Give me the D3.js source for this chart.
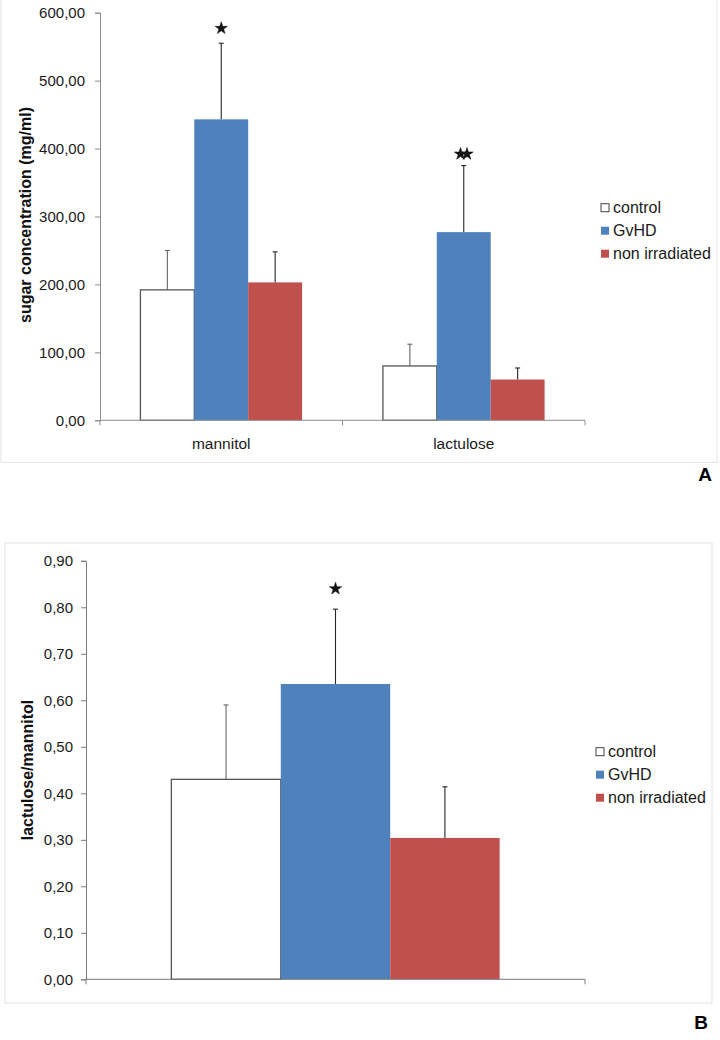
<!DOCTYPE html>
<html>
<head>
<meta charset="utf-8">
<script src="https://cdn.jsdelivr.net/npm/d3@7"></script>
<style>
  body { margin: 0; background: #fff; }
  svg { display: block; font-family: "Liberation Sans", Arial, sans-serif; }
</style>
</head>
<body>
<script>
// data
var seriesNames = ["control", "GvHD", "non irradiated"];
var seriesColors = ["#ffffff", "#4f81bd", "#c0504d"];

var sugarCategories = ["mannitol", "lactulose"];
var sugarMeans = [[192, 443, 203], [80, 277, 60]];
var sugarSD = [[58, 112, 45], [32, 98, 17]];
var sugarTicks = [0, 100, 200, 300, 400, 500, 600];
var sugarStars = [{cat: "mannitol", value: 577, n: 1}, {cat: "lactulose", value: 392, n: 2}];

var ratioCategories = [""];
var ratioMeans = [[0.43, 0.635, 0.304]];
var ratioSD = [[0.16, 0.161, 0.11]];
var ratioTicks = [0, 0.1, 0.2, 0.3, 0.4, 0.5, 0.6, 0.7, 0.8, 0.9];
var ratioStars = [{cat: "", value: 0.84, n: 1}];

var locale = d3.formatLocale({decimal: ",", thousands: ".", grouping: [3], currency: ["", ""]});
var fmt = locale.format(".2f");

var svg = d3.select("body").append("svg")
    .attr("width", 720)
    .attr("height", 1040);

function drawPanel(opt) {
  var g = svg.append("g");

  // light chart frame
  g.append("rect")
    .attr("x", opt.frame[0]).attr("y", opt.frame[1])
    .attr("width", opt.frame[2]).attr("height", opt.frame[3])
    .attr("fill", "none").attr("stroke", "#e2e2e2");

  var x = d3.scaleBand().domain(opt.categories).range(opt.xRange).padding(0);
  var inner = d3.scaleBand().domain(seriesNames).range([0, x.bandwidth()])
    .paddingInner(0).paddingOuter(opt.outerPad);
  var y = d3.scaleLinear().domain([0, opt.yMax]).range(opt.yRange);

  // y axis
  var yAxis = d3.axisLeft(y).tickValues(opt.ticks).tickFormat(fmt)
    .tickSizeOuter(0).tickSize(5).tickPadding(opt.tickPad);
  var ya = g.append("g")
    .attr("transform", "translate(" + opt.xRange[0] + ",0)")
    .call(yAxis);
  ya.select(".domain").attr("stroke", opt.axisColor);
  ya.selectAll(".tick line").attr("stroke", opt.axisColor);
  ya.selectAll(".tick text").attr("fill", "#1a1a1a")
    .style("font-size", "15px").style("font-family", "Liberation Sans, Arial, sans-serif");

  // bars
  var rows = [];
  opt.categories.forEach(function(c, i) {
    seriesNames.forEach(function(s, j) {
      rows.push({cat: c, series: s, idx: j, v: opt.means[i][j], sd: opt.sd[i][j]});
    });
  });

  g.selectAll(".bar").data(rows).enter().append("rect")
    .attr("class", "bar")
    .attr("x", function(d) { return x(d.cat) + inner(d.series); })
    .attr("width", inner.bandwidth())
    .attr("y", function(d) { return y(d.v); })
    .attr("height", function(d) { return y(0) - y(d.v); })
    .attr("fill", function(d) { return seriesColors[d.idx]; })
    .attr("stroke", function(d) { return d.idx === 0 ? "#555" : "none"; })
    .attr("stroke-width", 1.3);

  // x axis line with boundary ticks
  g.append("line")
    .attr("x1", opt.xRange[0]).attr("x2", opt.xRange[1])
    .attr("y1", y(0)).attr("y2", y(0))
    .attr("stroke", opt.axisColor);
  var bounds = opt.categories.map(function(c) { return x(c); }).concat([opt.xRange[1]]);
  g.selectAll(".xtick").data(bounds).enter().append("line")
    .attr("x1", function(d) { return d; }).attr("x2", function(d) { return d; })
    .attr("y1", y(0)).attr("y2", y(0) + 5)
    .attr("stroke", opt.axisColor);

  // error bars
  var eb = g.selectAll(".err").data(rows).enter().append("g")
    .attr("stroke", function(d) { return d.idx === 0 ? "#666" : "#262626"; })
    .attr("stroke-width", 1.1);
  eb.append("line")
    .attr("x1", function(d) { return x(d.cat) + inner(d.series) + inner.bandwidth() / 2; })
    .attr("x2", function(d) { return x(d.cat) + inner(d.series) + inner.bandwidth() / 2; })
    .attr("y1", function(d) { return y(d.v); })
    .attr("y2", function(d) { return y(d.v + d.sd); });
  eb.append("line")
    .attr("x1", function(d) { return x(d.cat) + inner(d.series) + inner.bandwidth() / 2 - 2.5; })
    .attr("x2", function(d) { return x(d.cat) + inner(d.series) + inner.bandwidth() / 2 + 2.5; })
    .attr("y1", function(d) { return y(d.v + d.sd); })
    .attr("y2", function(d) { return y(d.v + d.sd); });

  // category labels
  g.selectAll(".xlab").data(opt.categories).enter().append("text")
    .attr("x", function(d) { return x(d) + x.bandwidth() / 2; })
    .attr("y", y(0) + 29)
    .attr("text-anchor", "middle")
    .style("font-size", "15.5px").attr("fill", "#1a1a1a")
    .text(function(d) { return d; });

  // significance stars
  var star = d3.symbol().type(d3.symbolStar).size(48);
  opt.stars.forEach(function(s) {
    var cx = x(s.cat) + inner("GvHD") + inner.bandwidth() / 2;
    for (var k = 0; k < s.n; k++) {
      var off = (k - (s.n - 1) / 2) * 6.5;
      g.append("path").attr("d", star)
        .attr("transform", "translate(" + (cx + off) + "," + y(s.value) + ")")
        .attr("fill", "#111").attr("stroke", "#111").attr("stroke-width", 0.5);
    }
  });

  // y title
  g.append("text")
    .attr("transform", "translate(" + opt.titlePos[0] + "," + opt.titlePos[1] + ") rotate(-90)")
    .attr("text-anchor", "middle")
    .style("font-size", "16px").style("font-weight", "bold").attr("fill", "#111")
    .text(opt.title);

  // legend
  var lg = g.append("g").attr("transform", "translate(" + opt.legend[0] + "," + opt.legend[1] + ")");
  var item = lg.selectAll(".li").data(seriesNames).enter().append("g")
    .attr("transform", function(d, i) { return "translate(0," + (i * 23) + ")"; });
  item.append("rect")
    .attr("x", 0).attr("y", -4).attr("width", 8).attr("height", 8)
    .attr("fill", function(d, i) { return seriesColors[i]; })
    .attr("stroke", function(d, i) { return i === 0 ? "#444" : "none"; })
    .attr("stroke-width", 1);
  item.append("text")
    .attr("x", 12).attr("dy", "0.35em")
    .style("font-size", "16px").attr("fill", "#1a1a1a")
    .text(function(d) { return d; });

  // panel letter
  g.append("text")
    .attr("x", opt.letterPos[0]).attr("y", opt.letterPos[1])
    .attr("text-anchor", "middle")
    .style("font-size", "19px").style("font-weight", "bold").attr("fill", "#000")
    .text(opt.letter);
}

drawPanel({
  frame: [1, -1, 716, 463.5],
  categories: sugarCategories,
  means: sugarMeans,
  sd: sugarSD,
  ticks: sugarTicks,
  stars: sugarStars,
  yMax: 600,
  xRange: [100, 585],
  yRange: [420.3, 12.7],
  outerPad: 0.75,
  tickPad: 10,
  axisColor: "#8c8c8c",
  title: "sugar concentration (mg/ml)",
  titlePos: [31, 215],
  legend: [601, 207.7],
  letter: "A",
  letterPos: [705, 481]
});

drawPanel({
  frame: [5, 543, 707, 460],
  categories: ratioCategories,
  means: ratioMeans,
  sd: ratioSD,
  ticks: ratioTicks,
  stars: ratioStars,
  yMax: 0.9,
  xRange: [86, 585],
  yRange: [979.3, 560.8],
  outerPad: 0.78,
  tickPad: 8,
  axisColor: "#7a7a7a",
  title: "lactulose/mannitol",
  titlePos: [33, 770],
  legend: [596, 751.7],
  letter: "B",
  letterPos: [701, 1029]
});
</script>
</body>
</html>
